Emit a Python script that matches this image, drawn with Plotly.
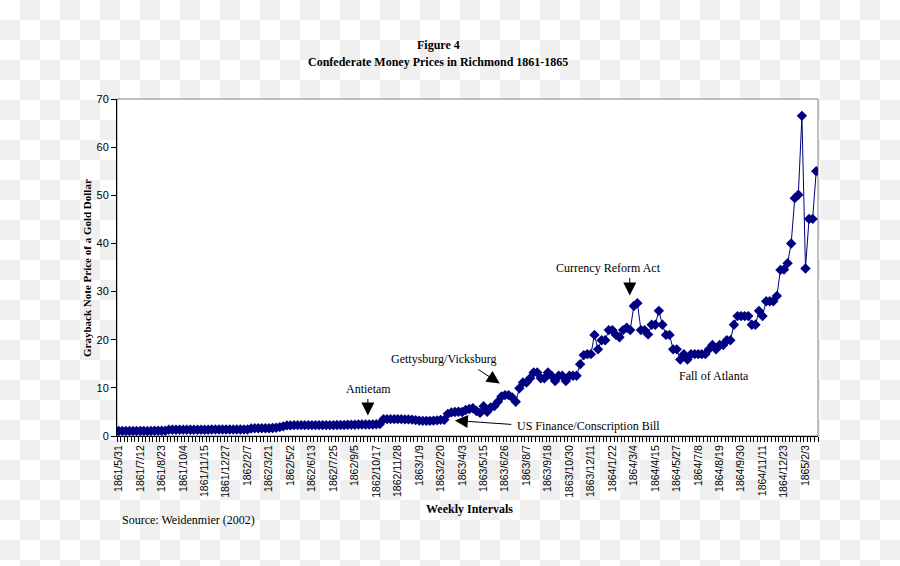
import base64
import plotly.graph_objects as go

# Weekly Richmond gold price of Confederate notes (graybacks per gold dollar), 1861/5/31 onwards
price = [
    # 1861/5/31 - (idx 0-13)
    1.05, 1.05, 1.05, 1.05, 1.05, 1.05, 1.05, 1.05, 1.05, 1.05, 1.08, 1.08, 1.08, 1.08,
    # idx 14-36
    1.3, 1.3, 1.3, 1.3, 1.3, 1.3, 1.3, 1.3, 1.3, 1.3, 1.3, 1.3,
    1.35, 1.35, 1.35, 1.35, 1.35, 1.35, 1.35, 1.35, 1.35, 1.35, 1.35,
    # idx 37-46
    1.55, 1.6, 1.6, 1.6, 1.6, 1.6, 1.65, 1.7, 1.85, 2.0,
    # idx 47-62
    2.2, 2.2, 2.25, 2.25, 2.25, 2.25, 2.25, 2.25, 2.25, 2.25, 2.25, 2.25, 2.25, 2.25, 2.3, 2.3,
    # idx 63-73
    2.3, 2.35, 2.35, 2.35, 2.4, 2.4, 2.4, 2.4, 2.4, 2.45, 2.5,
    # idx 74-91
    3.5, 3.5, 3.5, 3.5, 3.5, 3.5, 3.45, 3.45, 3.4, 3.3, 3.2, 3.15, 3.15, 3.15, 3.2, 3.25, 3.35, 3.35,
    # idx 92-111
    4.6, 4.9, 5.0, 5.05, 5.0, 5.4, 5.6, 5.75, 5.2, 4.8, 6.2, 5.05, 5.95, 6.2, 7.1, 8.2, 8.5, 8.5, 8.0, 7.1,
    # idx 112-131
    9.9, 11.1, 11.1, 12.0, 13.2, 13.2, 12.0, 12.0, 13.2, 12.5, 11.4, 12.5, 12.5, 11.4, 12.5, 12.5, 12.5, 14.9, 16.8, 17.0,
    # idx 132-151
    17.0, 21.0, 18.0, 19.9, 19.9, 22.0, 22.0, 21.0, 20.5, 22.0, 22.5, 22.0, 27.0, 27.6, 22.0, 22.0, 21.1, 23.1, 23.1, 26.0,
    # idx 152-171
    23.1, 21.0, 21.0, 18.0, 18.0, 15.9, 17.0, 15.9, 17.0, 17.0, 17.0, 17.0, 17.0, 18.0, 18.9, 18.0, 18.9, 18.9, 19.9, 19.9,
    # idx 172-195
    23.1, 24.9, 24.9, 24.9, 24.9, 23.1, 23.1, 26.0, 24.9, 28.0, 28.0, 28.0, 29.1, 34.5, 34.6, 35.9, 40.0, 49.4, 50.1, 66.5,
    34.8, 45.1, 45.1, 55.0,
]

tick_labels = [
    "1861/5/31", "1861/7/12", "1861/8/23", "1861/10/4", "1861/11/15", "1861/12/27",
    "1862/2/7", "1862/3/21", "1862/5/2", "1862/6/13", "1862/7/25", "1862/9/5",
    "1862/10/17", "1862/11/28", "1863/1/9", "1863/2/20", "1863/4/3", "1863/5/15",
    "1863/6/26", "1863/8/7", "1863/9/18", "1863/10/30", "1863/12/11", "1864/1/22",
    "1864/3/4", "1864/4/15", "1864/5/27", "1864/7/8", "1864/8/19", "1864/9/30",
    "1864/11/11", "1864/12/23", "1865/2/3",
]
label_every = 6

week_index = list(range(len(price)))
tick_positions = [k * label_every for k in range(len(tick_labels))]

SERIF = "Liberation Serif, Times New Roman, serif"
SANS = "Liberation Sans, Arial, sans-serif"
NAVY = "#000080"

W, H = 900, 566
ML, MR, MT, MB = 117, 82, 99, 130
PW, PH = W - ML - MR, H - MT - MB

fig = go.Figure()
fig.add_trace(go.Scatter(
    x=week_index, y=price, mode="lines+markers",
    line=dict(color=NAVY, width=1),
    marker=dict(symbol="diamond", size=8, color=NAVY, line=dict(width=0)),
    showlegend=False,
))

# checkerboard background (as in the reference picture)
svg = ('<svg xmlns="http://www.w3.org/2000/svg" width="900" height="566">'
       '<defs><pattern id="p" width="40" height="40" patternUnits="userSpaceOnUse">'
       '<rect width="40" height="40" fill="#ffffff"/>'
       '<rect x="20" y="0" width="20" height="20" fill="#f0f0f0"/>'
       '<rect x="0" y="20" width="20" height="20" fill="#f0f0f0"/>'
       '</pattern></defs><rect width="900" height="566" fill="url(#p)"/></svg>')
src = "data:image/svg+xml;base64," + base64.b64encode(svg.encode()).decode()
fig.add_layout_image(dict(
    source=src, xref="paper", yref="paper",
    x=-ML / PW, y=1 + MT / PH, sizex=W / PW, sizey=H / PH,
    xanchor="left", yanchor="top", sizing="stretch", layer="below",
))
fig.add_shape(type="rect", xref="paper", yref="paper", x0=0, x1=1, y0=0, y1=1,
              fillcolor="white", line=dict(color="#808080", width=1), layer="below")


def px_to_x(px):
    return (px - 118.8) / 3.578


def py_to_y(py):
    return (436.5 - py) / 4.817


annos = []
# event labels
for text, px, py, anchor in [
    ("Antietam", 369, 389, "center"),
    ("Gettysburg/Vicksburg", 444, 359, "center"),
    ("Currency Reform Act", 609, 268, "center"),
    ("Fall of Atlanta", 714, 376.5, "center"),
    ("US Finance/Conscription Bill", 515, 426, "left"),
]:
    annos.append(dict(x=px_to_x(px), y=py_to_y(py), xref="x", yref="y", text=text,
                      showarrow=False, xanchor=anchor, yanchor="middle",
                      font=dict(family=SERIF, size=12, color="black")))
# arrows
for tipx, tipy, ax, ay in [
    (368, 416, 0, -18),
    (500, 384, -23, -15),
    (630, 296, 0, -19),
    (455, 421, 58, 4),
]:
    annos.append(dict(x=px_to_x(tipx), y=py_to_y(tipy), xref="x", yref="y", text="",
                      showarrow=True, ax=ax, ay=ay, axref="pixel", ayref="pixel",
                      arrowhead=2, arrowsize=2.6, arrowwidth=1, arrowcolor="black"))

# titles and notes
annos += [
    dict(text="<b>Figure 4</b>", x=(438.5 - ML) / PW, y=(436 - 45) / PH, xref="paper", yref="paper",
         showarrow=False, xanchor="center", yanchor="middle", font=dict(family=SERIF, size=12, color="black")),
    dict(text="<b>Confederate Money Prices in Richmond 1861-1865</b>", x=(437.5 - ML) / PW, y=(436 - 62) / PH,
         xref="paper", yref="paper", showarrow=False, xanchor="center", yanchor="middle",
         font=dict(family=SERIF, size=12, color="black")),
    dict(text="<b>Grayback Note Price of a Gold Dollar</b>", x=(87 - ML) / PW, y=(436 - 268) / PH,
         xref="paper", yref="paper", showarrow=False, textangle=-90, xanchor="center", yanchor="middle",
         font=dict(family=SERIF, size=11, color="black")),
    dict(text="<b>Weekly Intervals</b>", x=(469 - ML) / PW, y=(436 - 509) / PH, xref="paper", yref="paper",
         showarrow=False, xanchor="center", yanchor="middle", font=dict(family=SERIF, size=12, color="black")),
    dict(text="Source: Weidenmier (2002)", x=(120 - ML) / PW, y=(436 - 520) / PH, xref="paper", yref="paper",
         showarrow=False, xanchor="left", yanchor="middle", font=dict(family=SERIF, size=12, color="black")),
]

fig.update_layout(
    template="none",
    width=W, height=H,
    margin=dict(l=ML, r=MR, t=MT, b=MB, pad=0),
    paper_bgcolor="white", plot_bgcolor="rgba(0,0,0,0)",
    annotations=annos,
    hovermode=False,
    xaxis=dict(
        range=[-0.5, len(price) - 0.5], tickmode="array", tickvals=tick_positions, ticktext=tick_labels,
        tickangle=-90, ticks="", showgrid=False, zeroline=False, automargin=False,
        showline=True, linecolor="black", linewidth=1, ticklabelstandoff=4,
        tickfont=dict(family=SANS, size=10.5, color="black"),
        minor=dict(tickmode="array", tickvals=[i - 0.5 for i in range(len(price) + 1)],
                   ticks="outside", ticklen=5, tickcolor="black", tickwidth=1, showgrid=False),
    ),
    yaxis=dict(
        range=[0, 70], tickmode="linear", tick0=0, dtick=10, ticks="outside", ticklen=5,
        tickcolor="black", showgrid=False, zeroline=False, automargin=False,
        showline=True, linecolor="black", linewidth=1,
        tickfont=dict(family=SANS, size=11, color="black"),
    ),
)

fig.write_html("out.html", config={"displayModeBar": False},
               post_script="document.body.style.margin='0';document.body.style.overflow='hidden';")
